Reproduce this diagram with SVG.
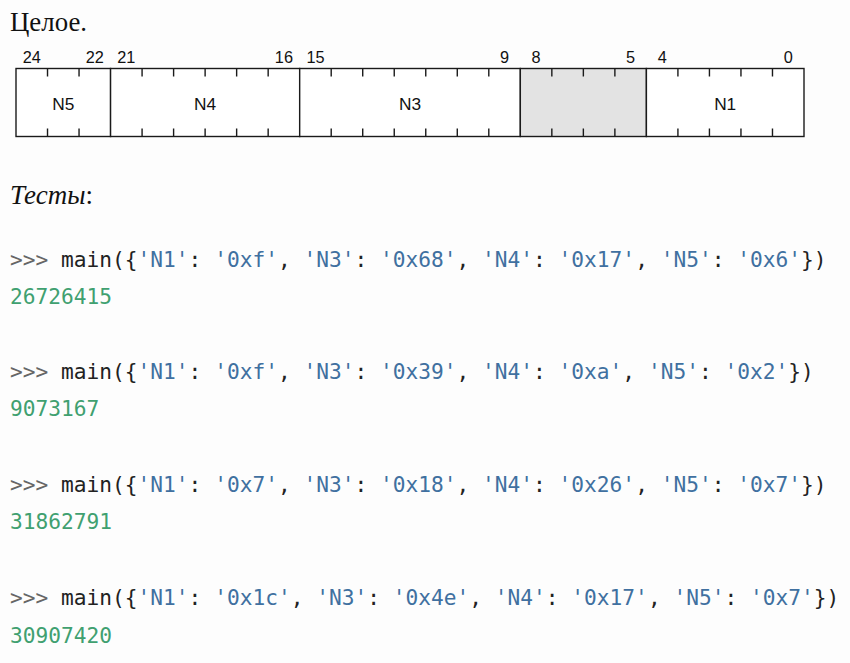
<svg xmlns="http://www.w3.org/2000/svg" width="850" height="663" viewBox="0 0 850 663">
<style>
.bg{fill:#fdfdfd}
.title{font-family:"Liberation Serif","DejaVu Serif",serif;font-size:27px;fill:#111}
.field{fill:#ffffff;stroke:#1a1a1a;stroke-width:1.4}
.res{fill:#e3e3e3;stroke:#1a1a1a;stroke-width:1.4}
.tick{stroke:#1a1a1a;stroke-width:1.4}
.bit{font-family:"Liberation Sans",Arial,sans-serif;font-size:16.3px;fill:#111;text-anchor:middle}
.name{font-family:"Liberation Sans",Arial,sans-serif;font-size:17.3px;fill:#111;text-anchor:middle}
.code{font-family:"DejaVu Sans Mono","Liberation Mono",monospace;font-size:21.2px;fill:#222;white-space:pre}
.p{fill:#666}
.s{fill:#4070a0}
.out{font-family:"DejaVu Sans Mono","Liberation Mono",monospace;font-size:21.2px;fill:#40a070}
</style>
<rect class="bg" x="0" y="0" width="850" height="663"/>
<text class="title" x="10" y="30.7" textLength="77" lengthAdjust="spacingAndGlyphs">Целое.</text>

<g id="N5">
<rect class="field" x="16" y="68.5" width="94.56" height="68"/>
<text class="name" x="63.28" y="110">N5</text>
</g>
<g id="N4">
<rect class="field" x="110.56" y="68.5" width="189.12" height="68"/>
<text class="name" x="205.12" y="110">N4</text>
</g>
<g id="N3">
<rect class="field" x="299.68" y="68.5" width="220.64" height="68"/>
<text class="name" x="410" y="110">N3</text>
</g>
<g id="reserved">
<rect class="res" x="520.32" y="68.5" width="126.08" height="68"/>
</g>
<g id="N1">
<rect class="field" x="646.4" y="68.5" width="157.6" height="68"/>
<text class="name" x="725.2" y="110">N1</text>
</g>

<g id="ticks">
<path class="tick" d="M47.52 68.5v8M79.04 68.5v8M142.08 68.5v8M173.6 68.5v8M205.12 68.5v8M236.64 68.5v8M268.16 68.5v8M331.2 68.5v8M362.72 68.5v8M394.24 68.5v8M425.76 68.5v8M457.28 68.5v8M488.8 68.5v8M551.84 68.5v8M583.36 68.5v8M614.88 68.5v8M677.92 68.5v8M709.44 68.5v8M740.96 68.5v8M772.48 68.5v8"/>
<path class="tick" d="M47.52 136.5v-8M79.04 136.5v-8M142.08 136.5v-8M173.6 136.5v-8M205.12 136.5v-8M236.64 136.5v-8M268.16 136.5v-8M331.2 136.5v-8M362.72 136.5v-8M394.24 136.5v-8M425.76 136.5v-8M457.28 136.5v-8M488.8 136.5v-8M551.84 136.5v-8M583.36 136.5v-8M614.88 136.5v-8M677.92 136.5v-8M709.44 136.5v-8M740.96 136.5v-8M772.48 136.5v-8"/>
</g>

<g id="bits">
<text class="bit" x="31.76" y="63.3">24</text>
<text class="bit" x="94.8" y="63.3">22</text>
<text class="bit" x="126.32" y="63.3">21</text>
<text class="bit" x="283.92" y="63.3">16</text>
<text class="bit" x="315.44" y="63.3">15</text>
<text class="bit" x="504.56" y="63.3">9</text>
<text class="bit" x="536.08" y="63.3">8</text>
<text class="bit" x="630.64" y="63.3">5</text>
<text class="bit" x="662.16" y="63.3">4</text>
<text class="bit" x="788.24" y="63.3">0</text>
</g>

<g id="connectors"></g>

<text class="title" x="10" y="204.3"><tspan font-style="italic">Тесты</tspan>:</text>

<g id="tests">
<text class="code" x="10" y="266.7"><tspan class="p">&gt;&gt;&gt; </tspan>main({<tspan class="s">'N1'</tspan>: <tspan class="s">'0xf'</tspan>, <tspan class="s">'N3'</tspan>: <tspan class="s">'0x68'</tspan>, <tspan class="s">'N4'</tspan>: <tspan class="s">'0x17'</tspan>, <tspan class="s">'N5'</tspan>: <tspan class="s">'0x6'</tspan>})</text>
<text class="out" x="10" y="303.7">26726415</text>
<text class="code" x="10" y="378.8"><tspan class="p">&gt;&gt;&gt; </tspan>main({<tspan class="s">'N1'</tspan>: <tspan class="s">'0xf'</tspan>, <tspan class="s">'N3'</tspan>: <tspan class="s">'0x39'</tspan>, <tspan class="s">'N4'</tspan>: <tspan class="s">'0xa'</tspan>, <tspan class="s">'N5'</tspan>: <tspan class="s">'0x2'</tspan>})</text>
<text class="out" x="10" y="416">9073167</text>
<text class="code" x="10" y="491.8"><tspan class="p">&gt;&gt;&gt; </tspan>main({<tspan class="s">'N1'</tspan>: <tspan class="s">'0x7'</tspan>, <tspan class="s">'N3'</tspan>: <tspan class="s">'0x18'</tspan>, <tspan class="s">'N4'</tspan>: <tspan class="s">'0x26'</tspan>, <tspan class="s">'N5'</tspan>: <tspan class="s">'0x7'</tspan>})</text>
<text class="out" x="10" y="529.3">31862791</text>
<text class="code" x="10" y="605"><tspan class="p">&gt;&gt;&gt; </tspan>main({<tspan class="s">'N1'</tspan>: <tspan class="s">'0x1c'</tspan>, <tspan class="s">'N3'</tspan>: <tspan class="s">'0x4e'</tspan>, <tspan class="s">'N4'</tspan>: <tspan class="s">'0x17'</tspan>, <tspan class="s">'N5'</tspan>: <tspan class="s">'0x7'</tspan>})</text>
<text class="out" x="10" y="642.5">30907420</text>
</g>
</svg>
